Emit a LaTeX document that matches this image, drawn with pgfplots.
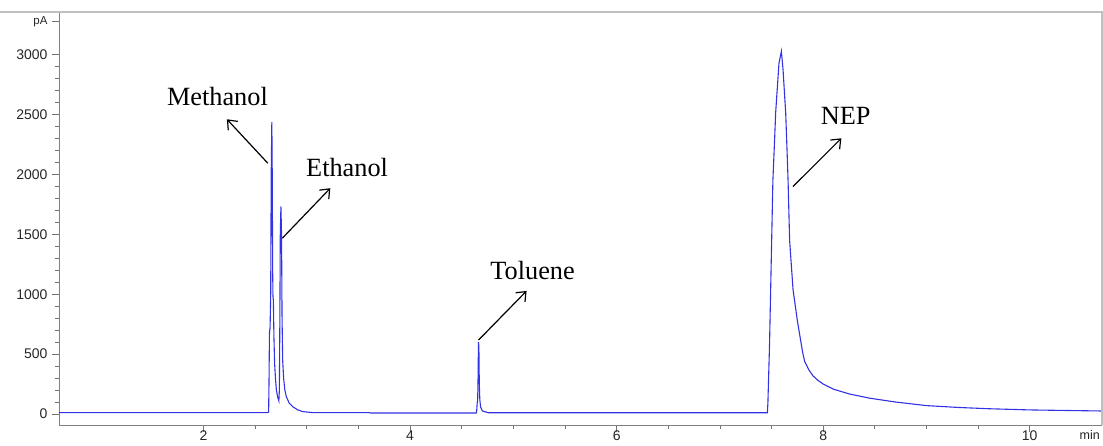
\documentclass[border=0pt]{standalone}
\usepackage{fontspec}
\setmainfont{Liberation Serif}
\newfontfamily\ticksf{Liberation Sans}
\usepackage{pgfplots}
\pgfplotsset{compat=1.18}
\usetikzlibrary{arrows.meta}
\definecolor{sig}{RGB}{50,50,228}
\begin{document}
\begin{tikzpicture}
\begin{axis}[
  at={(59pt,20pt)}, anchor=south west,
  scale only axis, width=1043pt, height=413pt,
  xmin=0.6, xmax=10.7, ymin=-92, ymax=3358,
  axis x line*=bottom, axis y line*=left,
  axis line style={black!50, line width=0.9pt, -},
  tick align=outside,
  major tick length=7pt, minor tick length=4pt,
  tick style={black!55, line width=0.8pt},
  xtick={2,4,6,8,10}, minor x tick num=3,
  ytick={0,500,1000,1500,2000,2500,3000}, minor y tick num=4,
  extra y ticks={3280}, extra y tick labels={pA},
  /pgf/number format/assume math mode=true,
  /pgf/number format/1000 sep={},
  yticklabel style={font=\ticksf\fontsize{14}{16}\selectfont, text=black!85, xshift=-1pt},
  xticklabel style={font=\ticksf\fontsize{14}{16}\selectfont, text=black!85, yshift=5pt},
  extra y tick style={yticklabel style={font=\ticksf\fontsize{11.5}{13}\selectfont}},
  clip mode=individual,
]
\addplot[sig, line width=1.1pt] coordinates {
(0.6,12) (2.0,12) (2.62,12) (2.630,15) (2.634,300) (2.638,680) (2.644,720)
(2.650,1000) (2.655,2000) (2.661,2440) (2.665,2000) (2.669,1200) (2.672,980)
(2.676,950) (2.681,650) (2.688,420) (2.696,300) (2.705,200) (2.718,140)
(2.729,110) (2.734,200) (2.738,700) (2.743,1500) (2.749,1735) (2.755,1500)
(2.760,800) (2.766,450) (2.775,300) (2.787,200) (2.801,145) (2.83,90)
(2.865,60) (2.91,35) (2.96,20) (3.05,12) (3.6,12) (3.62,8) (4.64,8)
(4.645,30) (4.650,95) (4.654,110) (4.658,300) (4.662,600) (4.666,560)
(4.670,250) (4.675,120) (4.682,60) (4.70,25) (4.76,10) (7.46,10)
(7.465,100) (7.472,320) (7.48,560) (7.50,1400) (7.513,1950) (7.53,2300)
(7.54,2520) (7.572,2930) (7.595,3030) (7.611,2880) (7.637,2515) (7.65,2205)
(7.66,1950) (7.675,1450) (7.708,1040) (7.75,780) (7.80,520) (7.82,440)
(7.86,370) (7.90,320) (7.95,280) (8.0,250) (8.1,207) (8.25,168) (8.45,132) (8.7,100) (9.0,70)
(9.3,55) (9.6,44) (10.0,34) (10.3,30) (10.7,25)
};
\begin{scope}[every node/.style={font=\fontsize{26.3}{30}\selectfont, anchor=base, inner sep=0pt}]
\node at (axis cs:2.134,2573) {Methanol};
\node at (axis cs:3.390,1982) {Ethanol};
\node at (axis cs:5.186,1125) {Toluene};
\node at (axis cs:8.218,2420) {NEP};
\end{scope}
\begin{scope}[line width=1.2pt, -{Straight Barb[length=8pt,width=13pt]}]
\draw (axis cs:2.623,2094) -- (axis cs:2.226,2462);
\draw (axis cs:2.762,1468) -- (axis cs:3.227,1886);
\draw (axis cs:4.663,618) -- (axis cs:5.128,1028);
\draw (axis cs:7.707,1899) -- (axis cs:8.176,2303);
\end{scope}
\node[font=\ticksf\fontsize{12.5}{14}\selectfont, text=black!85, anchor=north east, inner sep=0pt] at ([yshift=-5pt]axis cs:10.68,-92) {min};
\end{axis}
\draw[black!25, line width=1.2pt] (0,433pt) -- (1103pt,433pt);
\draw[black!25, line width=1.2pt] (1102pt,433pt) -- (1102pt,20pt);
\pgfresetboundingbox
\path[use as bounding box] (0,0) rectangle (1103pt,445pt);
\end{tikzpicture}
\end{document}
